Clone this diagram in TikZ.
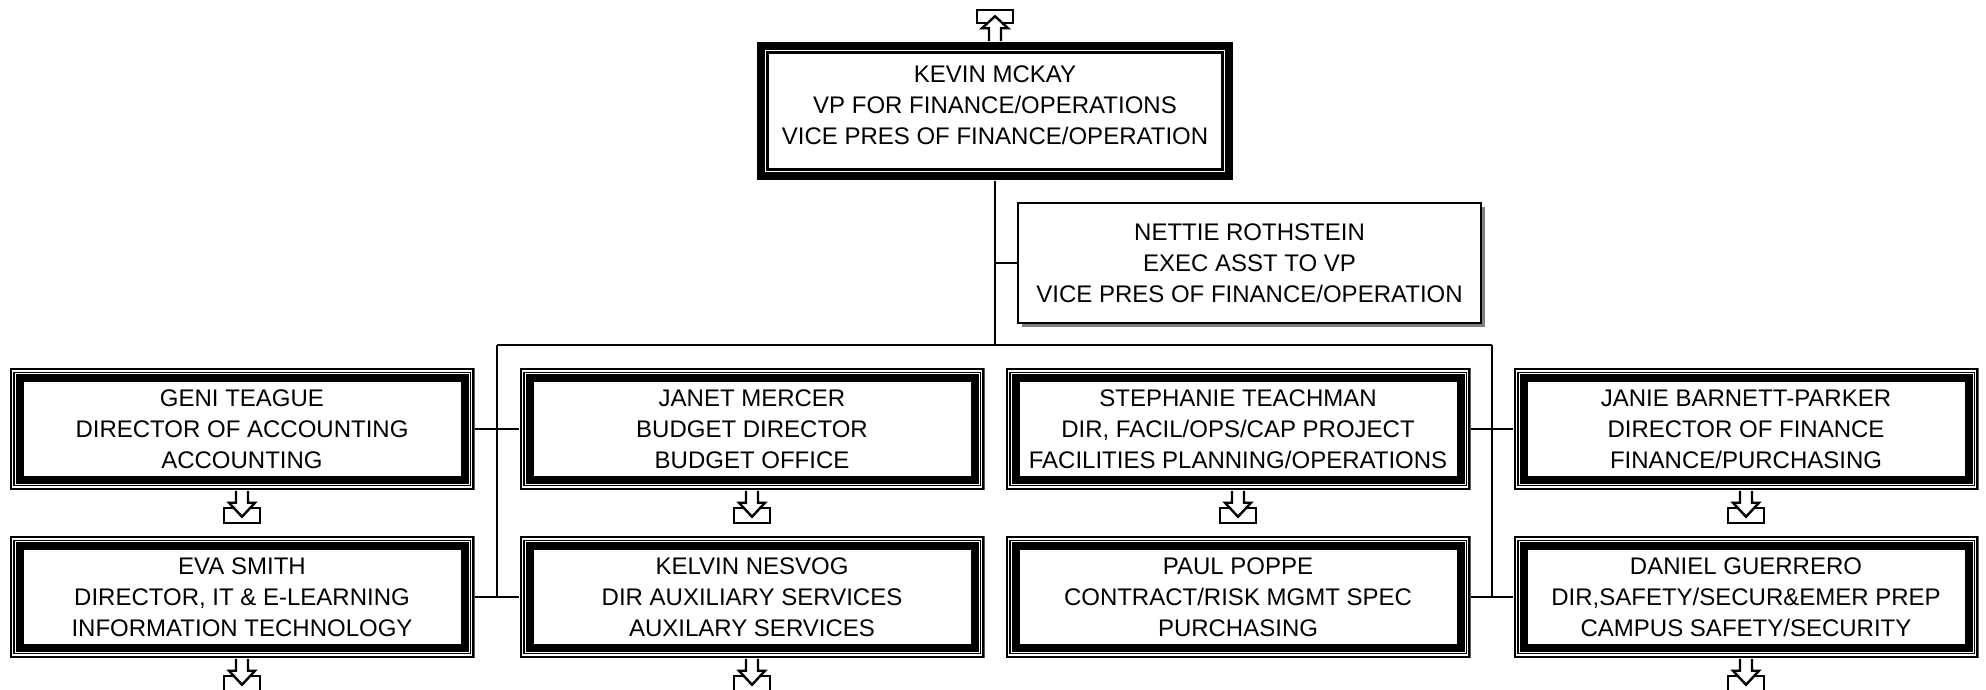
\documentclass[tikz,border=0pt]{standalone}
\usepackage{fontspec}
\setmainfont{Liberation Sans}
\usetikzlibrary{shadows}

\tikzset{
  txt/.style={align=center, inner sep=2pt, font=\fontsize{12}{15.5}\selectfont},
  box/.style={txt, minimum width=232.5pt, minimum height=61pt,
    path picture={
      \draw[line width=7pt] ([shift={(3.5pt,-3.5pt)}]path picture bounding box.north west) rectangle ([shift={(-3.5pt,3.5pt)}]path picture bounding box.south east);
      \draw[white, line width=0.8pt] ([shift={(1.5pt,-1.5pt)}]path picture bounding box.north west) rectangle ([shift={(-1.5pt,1.5pt)}]path picture bounding box.south east);
      \draw[white, line width=0.3pt] ([shift={(2.7pt,-2.7pt)}]path picture bounding box.north west) rectangle ([shift={(-2.7pt,2.7pt)}]path picture bounding box.south east);
    }},
  vpbox/.style={txt, minimum width=238pt, minimum height=69pt, text depth=5.5pt,
    path picture={
      \draw[line width=6pt] ([shift={(3pt,-3pt)}]path picture bounding box.north west) rectangle ([shift={(-3pt,3pt)}]path picture bounding box.south east);
      \draw[white, line width=0.6pt] ([shift={(4.3pt,-4.3pt)}]path picture bounding box.north west) rectangle ([shift={(-4.3pt,4.3pt)}]path picture bounding box.south east);
    }},
  asbox/.style={txt, draw, line width=1pt, fill=white, minimum width=231.5pt, minimum height=60pt,
    drop shadow={shadow xshift=2pt, shadow yshift=-2pt, fill=black!50, opacity=1}},
  pics/dnicon/.style={code={
    \draw[line width=1.2pt] (-18,17) rectangle (18,32);
    \draw[line width=1.2pt, fill=white] (-6,0) -- (-6,12) -- (-13,12) -- (0,26) -- (13,12) -- (6,12) -- (6,0);
  }},
  pics/upicon/.style={code={
    \draw[line width=1.2pt] (-18,-18) rectangle (18,-31);
    \draw[line width=1.2pt, fill=white] (-6,0) -- (-6,-13) -- (-13,-13) -- (0,-25) -- (13,-13) -- (6,-13) -- (6,0);
  }}
}

\begin{document}
\begin{tikzpicture}[x=0.5pt, y=-0.5pt, line width=0.75pt]
\useasboundingbox (0,0) rectangle (1986,690);
\node[vpbox] (vp) at (995,111) {KEVIN MCKAY\\VP FOR FINANCE/OPERATIONS\\VICE PRES OF FINANCE/OPERATION};
\node[asbox] (ea) at (1249.5,263) {NETTIE ROTHSTEIN\\EXEC ASST TO VP\\VICE PRES OF FINANCE/OPERATION};
\node[box] (acc) at (242,429) {GENI TEAGUE\\DIRECTOR OF ACCOUNTING\\ACCOUNTING};
\node[box] (bud) at (752,429) {JANET MERCER\\BUDGET DIRECTOR\\BUDGET OFFICE};
\node[box] (fac) at (1238,429) {STEPHANIE TEACHMAN\\DIR, FACIL/OPS/CAP PROJECT\\FACILITIES PLANNING/OPERATIONS};
\node[box] (fin) at (1746,429) {JANIE BARNETT-PARKER\\DIRECTOR OF FINANCE\\FINANCE/PURCHASING};
\node[box] (it) at (242,597) {EVA SMITH\\DIRECTOR, IT \& E-LEARNING\\INFORMATION TECHNOLOGY};
\node[box] (aux) at (752,597) {KELVIN NESVOG\\DIR AUXILIARY SERVICES\\AUXILARY SERVICES};
\node[box] (pur) at (1238,597) {PAUL POPPE\\CONTRACT/RISK MGMT SPEC\\PURCHASING};
\node[box] (saf) at (1746,597) {DANIEL GUERRERO\\DIR,SAFETY/SECUR\&EMER PREP\\CAMPUS SAFETY/SECURITY};
\coordinate (l) at (497,345); \coordinate (m) at (995,345); \coordinate (r) at (1492,345);
\draw (vp) to (m);
\draw (ea.west) to (ea.west -| m);
\draw (l) to (r);
\draw (l) to (l |- it.east);
\draw (r) to (r |- saf.west);
\draw (acc) to (bud);
\draw (it) to (aux);
\draw (fac) to (fin);
\draw (pur) to (saf);
\pic at (vp.north) {upicon};
\pic at (acc.south) {dnicon}; \pic at (bud.south) {dnicon};
\pic at (fac.south) {dnicon}; \pic at (fin.south) {dnicon};
\pic at (it.south) {dnicon}; \pic at (aux.south) {dnicon};
\pic at (saf.south) {dnicon};
\end{tikzpicture}
\end{document}
